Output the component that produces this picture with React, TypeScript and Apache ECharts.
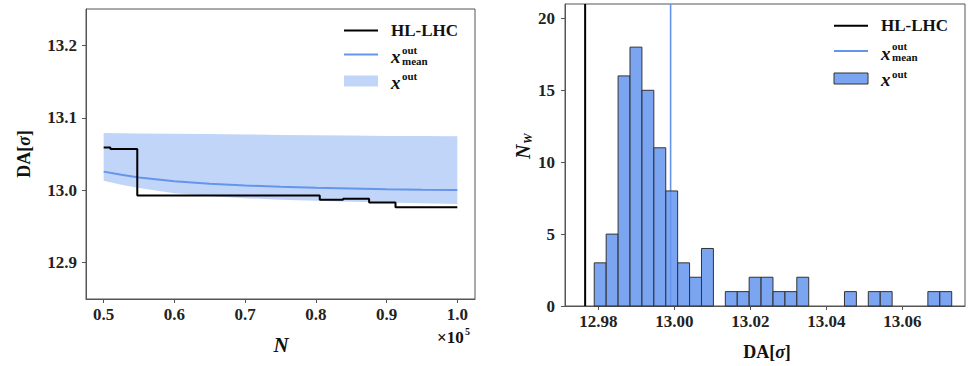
import React, { useEffect, useRef } from "react";
import * as echarts from "echarts";

const serif = "Liberation Serif";
const blue = "#6495ED";
const frame = "#555";

// Left panel: DA versus number of turns N (in units of 1e5)
const stepN = [0.5, 0.5095, 0.5475, 0.8055, 0.8385, 0.8753, 0.9126, 1.0];
const hlLhcDA = [13.059, 13.057, 12.9926, 12.987, 12.9884, 12.983, 12.9765, 12.9765];

const meanN = [0.5, 0.525, 0.55, 0.6, 0.65, 0.7, 0.75, 0.8, 0.85, 0.9, 0.95, 1.0];
const meanDA = [13.0257, 13.0213, 13.0175, 13.0125, 13.009, 13.0065, 13.0048, 13.0035, 13.0025, 13.0015, 13.0008, 13.0002];
const bandLow = [13.013, 13.0075, 13.003, 12.996, 12.992, 12.989, 12.987, 12.9855, 12.984, 12.983, 12.982, 12.981];
const bandHigh = [13.079, 13.0787, 13.0783, 13.078, 13.0775, 13.077, 13.0763, 13.0758, 13.0755, 13.075, 13.0748, 13.0745];

const nTicks = [0.5, 0.6, 0.7, 0.8, 0.9, 1.0];
const daTicks = [12.9, 13.0, 13.1, 13.2];

// Right panel: histogram of DA over the sampled configurations
const histLo = 12.9789;
const histHi = 13.073;
const histCounts = [3, 5, 16, 18, 15, 11, 8, 3, 2, 4, 0, 1, 1, 2, 2, 1, 1, 2, 0, 0, 0, 1, 0, 1, 1, 0, 0, 0, 1, 1];
const histTicks = [12.98, 13.0, 13.02, 13.04, 13.06];
const countTicks = [0, 5, 10, 15, 20];
const hlLhcFinal = hlLhcDA[hlLhcDA.length - 1];
const meanOut = 12.999;

function axisStyle(ticks: number[], digits: number, margin: number) {
  return {
    axisLine: { show: true, onZero: false, lineStyle: { color: frame, width: 1 } },
    axisTick: { show: true, length: 4, customValues: ticks, lineStyle: { color: frame, width: 1 } },
    axisLabel: {
      customValues: ticks,
      margin,
      formatter: (v: number) => v.toFixed(digits),
      color: "#222",
      fontFamily: serif,
      fontWeight: "bold",
      fontSize: 17,
    },
    splitLine: { show: false },
  };
}

const txt = (
  text: string,
  x: number,
  y: number,
  size: number,
  opts: Record<string, any> = {}
) => ({
  type: "text",
  x,
  y,
  style: {
    text,
    fontFamily: serif,
    fontWeight: "bold",
    fontSize: size,
    fill: "#111",
    align: "left",
    verticalAlign: "middle",
    ...opts,
  },
});

function legend(x0: number, rows: number[], patch: Record<string, any>) {
  const lx = x0;
  const tx = x0 + 47;
  return [
    { type: "line", shape: { x1: lx, y1: rows[0], x2: lx + 34, y2: rows[0] }, style: { stroke: "#000", lineWidth: 2 } },
    txt("HL-LHC", tx, rows[0], 17),
    { type: "line", shape: { x1: lx, y1: rows[1], x2: lx + 34, y2: rows[1] }, style: { stroke: blue, lineWidth: 2 } },
    txt("x", tx, rows[1] + 2, 19, { fontStyle: "italic" }),
    txt("out", tx + 11, rows[1] - 5, 11),
    txt("mean", tx + 11, rows[1] + 6, 11),
    { type: "rect", shape: { x: lx, y: rows[2] - 5.5, width: 34, height: 11 }, style: patch },
    txt("x", tx, rows[2] + 1, 19, { fontStyle: "italic" }),
    txt("out", tx + 11, rows[2] - 5, 11),
  ];
}

export default function App() {
  const ref = useRef<HTMLDivElement>(null);

  useEffect(() => {
    if (!ref.current) return;
    const chart = echarts.init(ref.current, undefined, { renderer: "svg" });
    const w = (histHi - histLo) / histCounts.length;
    const bins = histCounts
      .map((c, k) => [histLo + k * w, histLo + (k + 1) * w, c])
      .filter((d) => d[2] > 0);

    const daLabel = {
      text: "{a|DA[}{s|σ}{a|]}",
      rich: {
        a: { fontFamily: serif, fontWeight: "bold", fontSize: 18, fill: "#111" },
        s: { fontFamily: serif, fontWeight: "bold", fontStyle: "italic", fontSize: 18, fill: "#111" },
      },
      align: "center",
      verticalAlign: "middle",
    };

    chart.setOption({
      animation: false,
      textStyle: { fontFamily: serif },
      grid: [
        { left: 86, top: 9, width: 389, height: 290, show: true, borderColor: frame, borderWidth: 1 },
        { left: 565, top: 4, width: 400, height: 302, show: true, borderColor: frame, borderWidth: 1 },
      ],
      xAxis: [
        { type: "value", gridIndex: 0, min: 0.475, max: 1.025, ...axisStyle(nTicks, 1, 7) },
        { type: "value", gridIndex: 1, min: 12.9712, max: 13.0765, ...axisStyle(histTicks, 2, 7) },
      ],
      yAxis: [
        { type: "value", gridIndex: 0, min: 12.85, max: 13.25, ...axisStyle(daTicks, 1, 9) },
        { type: "value", gridIndex: 1, min: 0, max: 21, ...axisStyle(countTicks, 0, 10) },
      ],
      series: [
        {
          type: "custom",
          xAxisIndex: 0,
          yAxisIndex: 0,
          z: 1,
          silent: true,
          data: [[meanN[0], bandLow[0]]],
          renderItem: (_p: any, api: any) => {
            const upper = meanN.map((n, i) => api.coord([n, bandHigh[i]]));
            const lower = meanN.map((n, i) => api.coord([n, bandLow[i]])).reverse();
            return {
              type: "polygon",
              shape: { points: upper.concat(lower) },
              style: { fill: "rgba(100,149,237,0.4)" },
            };
          },
        },
        {
          type: "line",
          xAxisIndex: 0,
          yAxisIndex: 0,
          z: 2,
          data: meanN.map((n, i) => [n, meanDA[i]]),
          showSymbol: false,
          symbol: "none",
          lineStyle: { color: blue, width: 2 },
        },
        {
          type: "line",
          xAxisIndex: 0,
          yAxisIndex: 0,
          z: 3,
          step: "end",
          data: stepN.map((n, i) => [n, hlLhcDA[i]]),
          showSymbol: false,
          symbol: "none",
          lineStyle: { color: "#000", width: 2 },
        },
        {
          type: "line",
          xAxisIndex: 1,
          yAxisIndex: 1,
          z: 1,
          data: [[hlLhcFinal, 0], [hlLhcFinal, 21]],
          symbol: "none",
          lineStyle: { color: "#000", width: 2 },
        },
        {
          type: "line",
          xAxisIndex: 1,
          yAxisIndex: 1,
          z: 1,
          data: [[meanOut, 0], [meanOut, 21]],
          symbol: "none",
          lineStyle: { color: blue, width: 1.6 },
        },
        {
          type: "custom",
          xAxisIndex: 1,
          yAxisIndex: 1,
          z: 2,
          data: bins,
          encode: { x: [0, 1], y: 2 },
          renderItem: (_p: any, api: any) => {
            const p0 = api.coord([api.value(0), api.value(2)]);
            const p1 = api.coord([api.value(1), 0]);
            return {
              type: "rect",
              shape: { x: p0[0], y: p0[1], width: p1[0] - p0[0], height: p1[1] - p0[1] },
              style: { fill: "rgba(100,149,237,0.85)", stroke: "#333", lineWidth: 1 },
            };
          },
        },
      ],
      graphic: [
        ...legend(344, [30.5, 54.5, 81], { fill: "rgba(100,149,237,0.4)" }),
        ...legend(834, [25.7, 51, 78.5], { fill: "rgba(100,149,237,0.85)", stroke: "#333", lineWidth: 1 }),
        txt("N", 281, 345, 21, { fontStyle: "italic", align: "center" }),
        txt("×10", 437, 337, 17),
        txt("5", 465, 331, 10),
        { type: "text", x: 23.5, y: 154, rotation: Math.PI / 2, style: { ...daLabel } },
        { type: "text", x: 767, y: 352, style: { ...daLabel } },
        {
          type: "group",
          x: 524,
          y: 150,
          rotation: Math.PI / 2,
          children: [
            txt("N", -9, -1, 20, { fontStyle: "italic", align: "left" }),
            txt("W", 6, 4, 12, { fontStyle: "italic", align: "left" }),
          ],
        },
      ],
    });
    return () => chart.dispose();
  }, []);

  return (
    <div
      ref={ref}
      style={{ position: "absolute", left: 0, top: 0, width: 972, height: 366, background: "#fff" }}
    />
  );
}
